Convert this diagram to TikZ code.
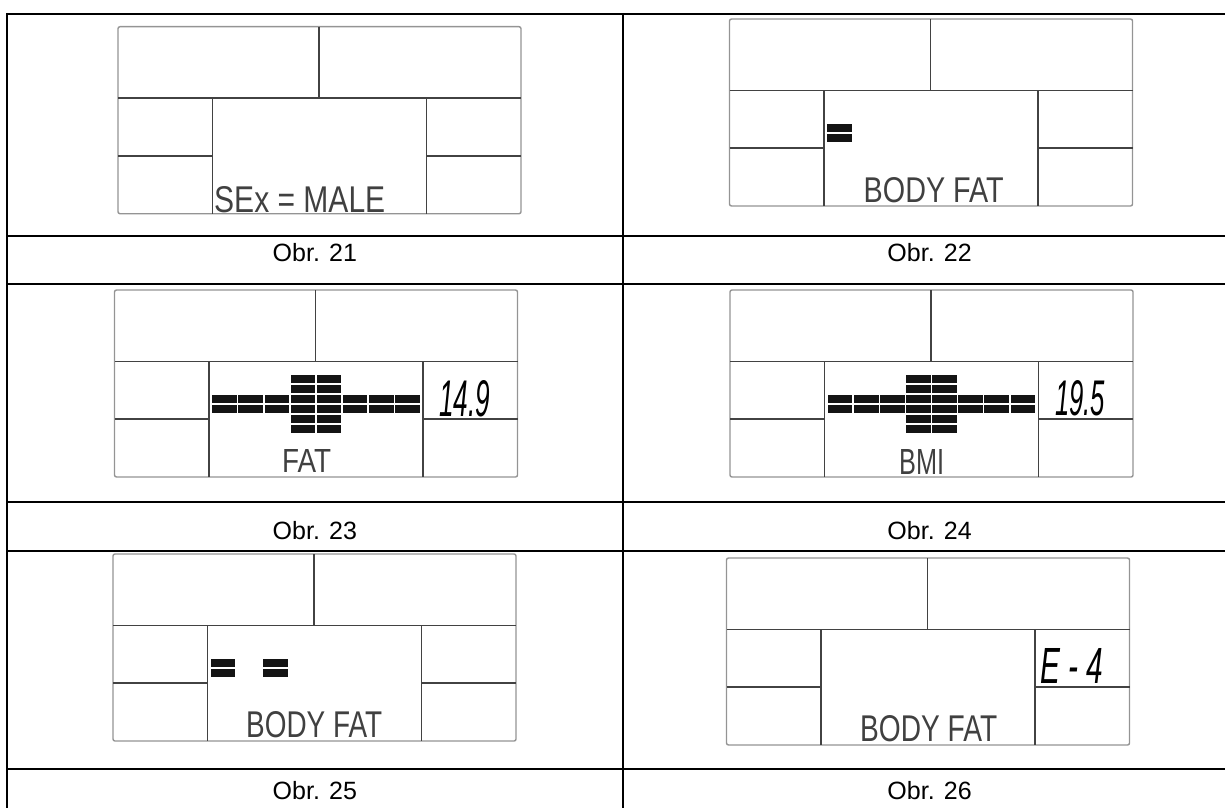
\documentclass[tikz,border=0pt]{standalone}
\usepackage{fontspec}
\setmainfont{Liberation Sans}
\newfontfamily\lcdfont{Liberation Sans}
\newcommand\lcdframe{%
  \draw[lcdouter] (0,0) rectangle (403,187);
  \draw[lcdinner] (0,71.5) -- (403,71.5) (201,0) -- (201,71.5)
     (94.5,187) -- (94.5,71.5) -- (308.5,71.5) -- (308.5,187)
     (0,129) -- (94.5,129) (308.5,129) -- (403,129);}
\newcommand\lcdcell[2]{\fill[seg] ({97.8+26.1*#1},{84.6+10*#2}) rectangle ++(24.6,8.8);}
\newcommand\lcdcross{%
  \foreach \c in {0,...,7}{\lcdcell{\c}{2}\lcdcell{\c}{3}}
  \foreach \r in {0,1,4,5}{\lcdcell{3}{\r}\lcdcell{4}{\r}}}
\begin{document}
\begin{tikzpicture}[x=1pt,y=-1pt,
  tbl/.style={line width=2pt, black},
  lcdouter/.style={draw=black!42, line width=1.4pt, rounded corners=2pt},
  lcdinner/.style={draw=black!74, line width=1.9pt},
  seg/.style={fill=black!92},
  lcdtxt/.style={inner sep=0pt, text=black!75, font=\lcdfont, anchor=south west},
  lcdnum/.style={inner sep=0pt, text=black, font=\lcdfont\itshape, anchor=south west},
  captxt/.style={font=\fontsize{25}{30}\selectfont, anchor=base, inner sep=0pt}]
\useasboundingbox (0,0) rectangle (1225,808);
% table
\draw[tbl] (6,14) -- (1225,14);
\draw[tbl] (6,235.7) -- (1225,235.7);
\draw[tbl] (6,284) -- (1225,284);
\draw[tbl] (6,501.7) -- (1225,501.7);
\draw[tbl] (6,550.7) -- (1225,550.7);
\draw[tbl] (6,768.7) -- (1225,768.7);
\draw[tbl] (7,13) -- (7,808);
\draw[tbl] (622.7,13) -- (622.7,808);
% panel 21
\begin{scope}[shift={(118,26.7)}]
  \lcdframe
  \node[lcdtxt] (t21) at (96,186) {\resizebox{171pt}{26pt}{SEx = MALE}};
\end{scope}
% panel 22
\begin{scope}[shift={(729.5,19)}]
  \lcdframe
  \lcdcell{0}{2}\lcdcell{0}{3}
  \node[lcdtxt] (t22) at (134,184) {\resizebox{140pt}{25pt}{BODY FAT}};
\end{scope}
% panel 23
\begin{scope}[shift={(114.5,290)}]
  \lcdframe
  \lcdcross
  \node[lcdtxt] (t23) at (167.5,183) {\resizebox{49pt}{23pt}{FAT}};
  \node[lcdnum] (n23) at (324.5,127) {\resizebox{51pt}{36pt}{14.9}};
\end{scope}
% panel 24
\begin{scope}[shift={(730,290)}]
  \lcdframe
  \lcdcross
  \node[lcdtxt] (t24) at (169,185) {\resizebox{45pt}{25pt}{BMI}};
  \node[lcdnum] (n24) at (325,126) {\resizebox{50pt}{35pt}{19.5}};
\end{scope}
% panel 25
\begin{scope}[shift={(113,554)}]
  \lcdframe
  \lcdcell{0}{2}\lcdcell{0}{3}\lcdcell{2}{2}\lcdcell{2}{3}
  \node[lcdtxt] (t25) at (133,184) {\resizebox{136pt}{26pt}{BODY FAT}};
\end{scope}
% panel 26
\begin{scope}[shift={(726.5,558)}]
  \lcdframe
  \node[lcdtxt] (t26) at (133.5,184) {\resizebox{137pt}{26pt}{BODY FAT}};
  \node[lcdnum] (n26) at (313.5,126) {\resizebox{63pt}{35pt}{E - 4}};
\end{scope}
% captions
\node[captxt] (c21) at (314.9,261) {Obr. 21};
\node[captxt] (c22) at (929.6,261) {Obr. 22};
\node[captxt] (c23) at (314.9,539) {Obr. 23};
\node[captxt] (c24) at (929.6,539) {Obr. 24};
\node[captxt] (c25) at (314.9,799) {Obr. 25};
\node[captxt] (c26) at (929.6,799) {Obr. 26};
\end{tikzpicture}
\end{document}
